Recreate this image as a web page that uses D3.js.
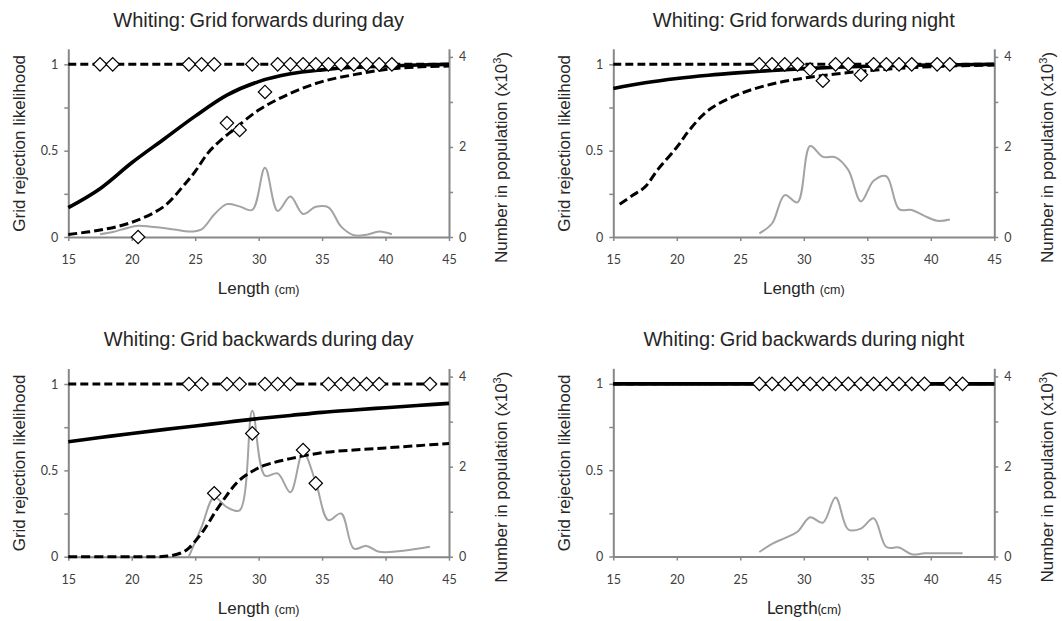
<!DOCTYPE html>
<html>
<head>
<meta charset="utf-8">
<script src="https://cdn.jsdelivr.net/npm/d3@7/dist/d3.min.js"></script>
<style>
  body { margin: 0; background: #fff; }
  svg { display: block; }
  .title { font-family: "Liberation Sans", Arial, sans-serif; font-size: 20px; fill: #262626; word-spacing: -1.5px; }
  .axlabel { font-family: "Liberation Sans", Arial, sans-serif; font-size: 17px; fill: #262626; }
  .tick text { font-family: Lato, "Open Sans", sans-serif; font-size: 12.5px; fill: #404040; }
  .domain { stroke: #878787; stroke-width: 2; }
  .tick line { stroke: #878787; stroke-width: 1.5; }
</style>
</head>
<body>
<script>
// ---- data ----
const titles = [
  "Whiting: Grid forwards during day",
  "Whiting: Grid forwards during night",
  "Whiting: Grid backwards during day",
  "Whiting: Grid backwards during night"
];
const xTicks = [15, 20, 25, 30, 35, 40, 45];
const yLeftTicks = [0, 0.25, 0.5, 0.75, 1];
const yLeftLabels = [0, 0.5, 1];
const yRightTicks = [0, 1, 2, 3, 4];
const yRightLabels = [0, 2, 4];
const yLeftMax = 1.09, yRightMax = 4.18;

// fitted curve and confidence bands share this length grid (cm)
const lenFit = [15, 17.5, 20, 22.5, 25, 27.5, 30, 32.5, 35, 37.5, 40, 42.5, 45];

// forwards, day
const fwdDayFit   = [0.17, 0.28, 0.43, 0.565, 0.70, 0.822, 0.90, 0.945, 0.968, 0.983, 0.99, 0.996, 1.0];
const fwdDayUpper = [1, 1, 1, 1, 1, 1, 1, 1, 1, 1, 1, 1, 1];
const fwdDayLowLen = [15, 17.5, 20, 22.5, 24, 25, 26, 27, 28, 30, 32.5, 35, 37.5, 40, 42.5, 45];
const fwdDayLower  = [0.015, 0.04, 0.085, 0.175, 0.29, 0.38, 0.486, 0.56, 0.62, 0.735, 0.832, 0.9, 0.94, 0.97, 0.985, 0.99];
const fwdDayObsLen = [17.5, 18.5, 20.5, 24.5, 25.5, 26.5, 27.5, 28.5, 29.5, 30.5, 31.5, 32.5, 33.5, 34.5, 35.5, 36.5, 37.5, 38.5, 39.5, 40.5];
const fwdDayObs    = [1, 1, 0, 1, 1, 1, 0.66, 0.62, 1, 0.84, 1, 1, 1, 1, 1, 1, 1, 1, 1, 1];
const fwdDayPopLen = [17.5, 18.5, 19.5, 20.5, 21.5, 22.5, 23.5, 24.5, 25.5, 26.5, 27.5, 28.5, 29.5, 30.5, 31.5, 32.5, 33.5, 34.5, 35.5, 36.5, 37.5, 38.5, 39.5, 40.5];
const fwdDayPop    = [0.06, 0.11, 0.19, 0.25, 0.23, 0.2, 0.16, 0.12, 0.17, 0.5, 0.73, 0.68, 0.6, 1.54, 0.58, 0.9, 0.51, 0.67, 0.66, 0.23, 0.04, 0.05, 0.12, 0.06];

// forwards, night
const fwdNightFit   = [0.86, 0.893, 0.918, 0.937, 0.952, 0.965, 0.975, 0.983, 0.989, 0.993, 0.996, 0.998, 1.0];
const fwdNightUpper = [1, 1, 1, 1, 1, 1, 1, 1, 1, 1, 1, 1, 1];
const fwdNightLowLen = [15.5, 16.5, 17.5, 18.5, 20, 21, 22.5, 25, 27.5, 30, 32.5, 35, 37.5, 40, 42.5, 45];
const fwdNightLower  = [0.19, 0.24, 0.29, 0.39, 0.52, 0.62, 0.735, 0.83, 0.886, 0.92, 0.944, 0.963, 0.977, 0.986, 0.992, 0.996];
const fwdNightObsLen = [26.5, 27.5, 28.5, 29.5, 30.5, 31.5, 32.5, 33.5, 34.5, 35.5, 36.5, 37.5, 38.5, 40.5, 41.5];
const fwdNightObs    = [1, 1, 1, 1, 0.97, 0.905, 1, 1, 0.94, 1, 1, 1, 1, 1, 1];
const fwdNightPopLen = [26.5, 27.5, 28.5, 29.5, 30.5, 31.5, 32.5, 33.5, 34.5, 35.5, 36.5, 37.5, 38.5, 39.5, 40.5, 41.5];
const fwdNightPop    = [0.08, 0.3, 0.93, 0.77, 2.02, 1.78, 1.77, 1.49, 0.79, 1.25, 1.35, 0.62, 0.6, 0.47, 0.36, 0.39];

// backwards, day
const bwdDayFit   = [0.666, 0.69, 0.714, 0.736, 0.757, 0.779, 0.80, 0.818, 0.836, 0.85, 0.863, 0.876, 0.888];
const bwdDayUpper = [1, 1, 1, 1, 1, 1, 1, 1, 1, 1, 1, 1, 1];
const bwdDayLowLen = [15, 20, 22, 23, 24, 24.5, 25, 25.5, 26, 26.5, 27, 27.5, 28, 28.5, 29.5, 30.5, 32.5, 35, 37.5, 40, 42.5, 45];
const bwdDayLower  = [0, 0, 0, 0.005, 0.025, 0.05, 0.09, 0.135, 0.19, 0.25, 0.305, 0.357, 0.405, 0.444, 0.495, 0.53, 0.568, 0.602, 0.618, 0.63, 0.643, 0.656];
const bwdDayObsLen = [24.5, 25.5, 26.5, 27.5, 28.5, 29.5, 30.5, 31.5, 32.5, 33.5, 34.5, 35.5, 36.5, 37.5, 38.5, 39.5, 43.5];
const bwdDayObs    = [1, 1, 0.367, 1, 1, 0.714, 1, 1, 1, 0.618, 0.425, 1, 1, 1, 1, 1, 1];
const bwdDayPopLen = [24.5, 25.5, 26.5, 27.5, 28.5, 29.5, 30.5, 31.5, 32.5, 33.5, 34.5, 35.5, 36.5, 37.5, 38.5, 39.5, 43.5];
const bwdDayPop    = [0, 0.66, 1.32, 1.1, 1.03, 3.24, 1.8, 1.85, 1.43, 2.32, 1.65, 0.81, 0.96, 0.18, 0.24, 0.11, 0.22];

// backwards, night
const bwdNightFit   = [1, 1, 1, 1, 1, 1, 1, 1, 1, 1, 1, 1, 1];
const bwdNightUpper = [1, 1, 1, 1, 1, 1, 1, 1, 1, 1, 1, 1, 1];
const bwdNightLower = [1, 1, 1, 1, 1, 1, 1, 1, 1, 1, 1, 1, 1];
const bwdNightObsLen = [26.5, 27.5, 28.5, 29.5, 30.5, 31.5, 32.5, 33.5, 34.5, 35.5, 36.5, 37.5, 38.5, 39.5, 41.5, 42.5];
const bwdNightObs    = [1, 1, 1, 1, 1, 1, 1, 1, 1, 1, 1, 1, 1, 1, 1, 1];
const bwdNightPopLen = [26.5, 27.5, 28.5, 29.5, 30.5, 31.5, 32.5, 33.5, 34.5, 35.5, 36.5, 37.5, 38.5, 39.5, 40.5, 41.5, 42.5];
const bwdNightPop    = [0.1, 0.28, 0.41, 0.55, 0.87, 0.75, 1.31, 0.6, 0.62, 0.85, 0.21, 0.2, 0.05, 0.07, 0.07, 0.07, 0.07];

const zip = (a, b) => a.map((v, i) => [v, b[i]]);

// ---- layout ----
const layout = [
  { x0: 68.3,  x1: 449,   yb: 237 },
  { x0: 613.3, x1: 994.3, yb: 237 },
  { x0: 68.3,  x1: 449,   yb: 556.7 },
  { x0: 613.3, x1: 994.3, yb: 556.5 }
];
const plotH = 188.2;

const panels = [
  { title: titles[0], fit: zip(lenFit, fwdDayFit), upper: zip(lenFit, fwdDayUpper), lower: zip(fwdDayLowLen, fwdDayLower),
    obs: zip(fwdDayObsLen, fwdDayObs), pop: zip(fwdDayPopLen, fwdDayPop) },
  { title: titles[1], fit: zip(lenFit, fwdNightFit), upper: zip(lenFit, fwdNightUpper), lower: zip(fwdNightLowLen, fwdNightLower),
    obs: zip(fwdNightObsLen, fwdNightObs), pop: zip(fwdNightPopLen, fwdNightPop) },
  { title: titles[2], fit: zip(lenFit, bwdDayFit), upper: zip(lenFit, bwdDayUpper), lower: zip(bwdDayLowLen, bwdDayLower),
    obs: zip(bwdDayObsLen, bwdDayObs), pop: zip(bwdDayPopLen, bwdDayPop) },
  { title: titles[3], fit: zip(lenFit, bwdNightFit), upper: zip(lenFit, bwdNightUpper), lower: zip(lenFit, bwdNightLower),
    obs: zip(bwdNightObsLen, bwdNightObs), pop: zip(bwdNightPopLen, bwdNightPop), calibri: true }
];

const svg = d3.select("body").append("svg")
  .attr("width", 1062).attr("height", 621);

panels.forEach(function (p, i) {
  const L = layout[i];
  const x = d3.scaleLinear().domain([15, 45]).range([L.x0, L.x1]);
  const yL = d3.scaleLinear().domain([0, yLeftMax]).range([L.yb, L.yb - plotH]);
  const yR = d3.scaleLinear().domain([0, yRightMax]).range([L.yb, L.yb - plotH]);
  const cx = (L.x0 + L.x1) / 2;
  const g = svg.append("g");

  // axes
  g.append("g").attr("transform", "translate(0," + L.yb + ")")
    .call(d3.axisBottom(x).tickValues(xTicks).tickSize(4).tickSizeOuter(0).tickPadding(14.5));
  g.append("g").attr("transform", "translate(" + L.x0 + ",0)")
    .call(d3.axisLeft(yL).tickValues(yLeftTicks).tickSize(4).tickSizeOuter(0).tickPadding(6)
      .tickFormat(d => yLeftLabels.includes(d) ? String(d) : ""));
  g.append("g").attr("transform", "translate(" + L.x1 + ",0)")
    .call(d3.axisRight(yR).tickValues(yRightTicks).tickSize(4).tickSizeOuter(0).tickPadding(6)
      .tickFormat(d => yRightLabels.includes(d) ? String(d) : ""));

  // population (right axis)
  const popLine = d3.line().x(d => x(d[0])).y(d => yR(d[1])).curve(d3.curveCatmullRom.alpha(0.5));
  g.append("path").attr("d", popLine(p.pop))
    .attr("fill", "none").attr("stroke", "#a3a3a3").attr("stroke-width", 2);

  // likelihood curves (left axis)
  const line = d3.line().x(d => x(d[0])).y(d => yL(d[1])).curve(d3.curveCatmullRom.alpha(0.5));
  g.append("path").attr("d", line(p.fit))
    .attr("fill", "none").attr("stroke", "#000").attr("stroke-width", 3.6);
  g.append("path").attr("d", line(p.upper))
    .attr("fill", "none").attr("stroke", "#000").attr("stroke-width", 3).attr("stroke-dasharray", "8,4");
  g.append("path").attr("d", line(p.lower))
    .attr("fill", "none").attr("stroke", "#000").attr("stroke-width", 3).attr("stroke-dasharray", "9,4");

  // observed points
  g.selectAll(".pt").data(p.obs).enter().append("path")
    .attr("class", "pt")
    .attr("d", d3.symbol(d3.symbolSquare, 90))
    .attr("transform", d => "translate(" + x(d[0]) + "," + yL(d[1]) + ") rotate(45)")
    .attr("fill", "#fff").attr("stroke", "#000").attr("stroke-width", 1.2);

  // texts
  g.append("text").attr("class", "title")
    .attr("x", cx).attr("y", L.yb - 210.5).attr("text-anchor", "middle").text(p.title);

  g.append("text").attr("class", "axlabel")
    .attr("transform", "translate(" + (L.x0 - 49.3) + "," + (L.yb - 93.7) + ") rotate(-90)")
    .attr("text-anchor", "middle").attr("dy", "0.35em")
    .text("Grid rejection likelihood");

  const rl = g.append("text").attr("class", "axlabel")
    .attr("transform", "translate(" + (L.x1 + 52.5) + "," + (L.yb - 79.5) + ") rotate(-90)")
    .attr("text-anchor", "middle").attr("dy", "0.35em");
  rl.append("tspan").text("Number in population (x10");
  rl.append("tspan").attr("font-size", "11px").attr("dy", "-0.55em").text("3");
  rl.append("tspan").attr("dy", "0.45em").text(")");

  const xl = g.append("text").attr("class", "axlabel")
    .attr("x", cx).attr("y", L.yb + 57).attr("text-anchor", "middle");
  if (p.calibri) {
    xl.style("font-family", "Lato, sans-serif");
    xl.append("tspan").text("Length");
    xl.append("tspan").attr("font-size", "13px").text("(cm)");
  } else {
    xl.append("tspan").text("Length ");
    xl.append("tspan").attr("font-size", "12.5px").text("(cm)");
  }
});
</script>
</body>
</html>
